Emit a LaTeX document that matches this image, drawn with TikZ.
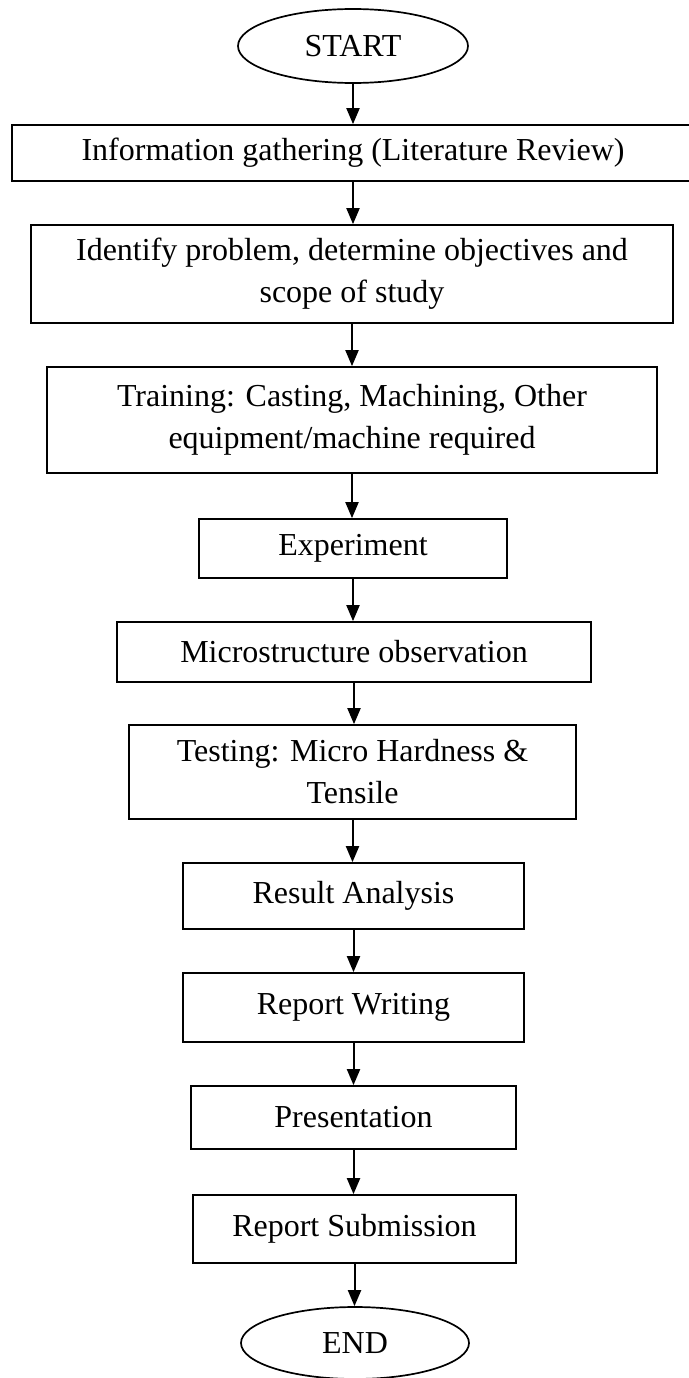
\documentclass[tikz,border=0pt]{standalone}
\usepackage{fontspec}
\setmainfont{Liberation Serif}
\usetikzlibrary{shapes.geometric,arrows.meta}
\begin{document}
\begin{tikzpicture}[x=1pt,y=-1pt,
  every node/.style={font=\fontsize{32}{42}\selectfont, inner sep=0pt},
  stepbox/.style={draw, line width=1.7pt, rectangle, align=center},
  term/.style={draw, line width=1.7pt, ellipse, minimum width=230pt, minimum height=74pt},
  flow/.style={line width=2pt, -{Triangle[length=16pt,width=13pt]}}]
\fill[white] (0,0) rectangle (688,1378);
\useasboundingbox (0,0) rectangle (688,1378);
\node[term] (start) at (353,46) {START};
\node[stepbox, minimum width=682pt, minimum height=56pt] (b1) at (353,153) {Information gathering (Literature Review)};
\node[stepbox, minimum width=642pt, minimum height=98pt] (b2) at (352,274) {Identify problem, determine objectives and\\scope of study};
\node[stepbox, minimum width=610pt, minimum height=106pt] (b3) at (352,420) {Training: Casting, Machining, Other\\equipment/machine required};
\node[stepbox, minimum width=308pt, minimum height=59pt] (b4) at (353,548.5) {Experiment};
\node[stepbox, minimum width=474pt, minimum height=60pt] (b5) at (354,652) {Microstructure observation};
\node[stepbox, minimum width=447pt, minimum height=94pt] (b6) at (352.5,772) {Testing: Micro Hardness \&\\Tensile};
\node[stepbox, minimum width=341pt, minimum height=66pt] (b7) at (353.5,896) {Result Analysis};
\node[stepbox, minimum width=341pt, minimum height=69pt] (b8) at (353.5,1007.5) {Report Writing};
\node[stepbox, minimum width=325pt, minimum height=63pt] (b9) at (353.5,1117.5) {Presentation};
\node[stepbox, minimum width=323pt, minimum height=68pt] (b10) at (354.5,1229) {Report Submission};
\node[term, minimum width=228pt, minimum height=72pt] (end) at (355,1343) {END};
\draw[flow] (start.south) -- (start.south |- b1.north);
\draw[flow] (b1.south) -- (b1.south |- b2.north);
\draw[flow] (b2.south) -- (b2.south |- b3.north);
\draw[flow] (b3.south) -- (b3.south |- b4.north);
\draw[flow] (b4.south) -- (b4.south |- b5.north);
\draw[flow] (b5.south) -- (b5.south |- b6.north);
\draw[flow] (b6.south) -- (b6.south |- b7.north);
\draw[flow] (b7.south) -- (b7.south |- b8.north);
\draw[flow] (b8.south) -- (b8.south |- b9.north);
\draw[flow] (b9.south) -- (b9.south |- b10.north);
\draw[flow] (b10.south) -- (b10.south |- end.north);
\end{tikzpicture}
\end{document}
